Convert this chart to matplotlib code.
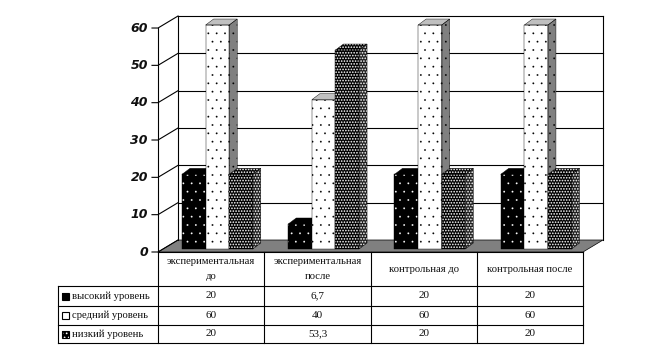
import matplotlib
matplotlib.use("Agg")
import matplotlib.pyplot as plt
from matplotlib.patches import Polygon, Rectangle

categories = ["экспериментальная\nдо", "экспериментальная\nпосле", "контрольная до", "контрольная после"]
series_names = ["высокий уровень", "средний уровень", "низкий уровень"]
high = [20, 6.7, 20, 20]
mid = [60, 40, 60, 60]
low = [20, 53.3, 20, 20]
value_labels = [["20", "6,7", "20", "20"], ["60", "40", "60", "60"], ["20", "53,3", "20", "20"]]
yticks = [0, 10, 20, 30, 40, 50, 60]

W, H = 661, 360
X0, Y0 = 158, 252      # front-left origin in pixels
PX_X, PX_Y = 106.25, 3.733
fig = plt.figure(figsize=(W/100, H/100), dpi=100, facecolor="white")
ax = fig.add_axes([0, 0, 1, 1])
ax.set_xlim(-X0/PX_X, (W-X0)/PX_X)
ax.set_ylim((Y0-H)/PX_Y, Y0/PX_Y)
ax.axis("off")
DX, DY = 20/PX_X, 12/PX_Y
n = len(categories)
ymax = max(yticks)
LW = 0.8

# walls, grid, floor
ax.add_patch(Polygon([(0, 0), (n, 0), (n+DX, DY), (DX, DY)], fc="#808080", ec="black", lw=0.5, zorder=1))
ax.plot([DX, DX], [DY, DY+ymax], color="k", lw=LW, zorder=1)
ax.plot([n+DX, n+DX], [DY, DY+ymax], color="k", lw=LW, zorder=1)
for t in yticks:
    ax.plot([-6/PX_X, 0, DX], [t, t, t+DY], color="k", lw=LW, zorder=1)
    if t:
        ax.plot([DX, n+DX], [t+DY, t+DY], color="k", lw=LW, zorder=1)
    ax.text(-10/PX_X, t, str(t), ha="right", va="center", fontsize=9, color="#101010",
            family="DejaVu Sans", weight="bold", style="italic", zorder=5)
ax.plot([0, 0], [0, ymax], color="k", lw=LW, zorder=1)

# bars
BW = 23.6/PX_X
BX = 24/PX_X - 5/PX_X
BASE = 3/PX_Y
ox, oy = 8/PX_X, 6/PX_Y
FRONT_DX = 5/PX_X
styles = [
    dict(front=("black", "white", ".."), top=("black", "white", ""), side=("black", "white", "..")),
    dict(front=("white", "black", ".."), top=("#c0c0c0", "#c0c0c0", ""), side=("#808080", "black", "..")),
    dict(front=("black", "white", "......"), top=("black", "white", "......"), side=("#202020", "white", "......")),
]
hatch_lw = [0.1, 0.1, 0.8]
vals = [high, mid, low]
for i in range(n):
    for s, series in enumerate(vals):
        v = series[i]
        x = i + BX + FRONT_DX + s*BW
        st = styles[s]
        y0, y1 = BASE, BASE + v
        z = 3 + i + s*0.1
        plt.rcParams['hatch.linewidth'] = hatch_lw[s]
        for pts, key in (([(x, y0), (x+BW, y0), (x+BW, y1), (x, y1)], "front"),
                         ([(x, y1), (x+BW, y1), (x+BW+ox, y1+oy), (x+ox, y1+oy)], "top"),
                         ([(x+BW, y0), (x+BW+ox, y0+oy), (x+BW+ox, y1+oy), (x+BW, y1)], "side")):
            fc, hc, hatch = st[key]
            ax.add_patch(Polygon(pts, fc=fc, ec=hc, hatch=hatch, lw=0, zorder=z))
            ax.add_patch(Polygon(pts, fc="none", ec="black", lw=0.3, zorder=z+0.01))

# table on a pixel overlay
tb = fig.add_axes([0, 0, 1, 1], facecolor="none")
tb.set_xlim(0, W); tb.set_ylim(H, 0); tb.axis("off")
col_x = [158, 264, 371, 477, 583]
row_y = [252, 286, 306, 325, 343]
LEFT = 58
for x in col_x:
    tb.plot([x, x], [row_y[0], row_y[-1]], color="k", lw=LW)
tb.plot([LEFT, LEFT], [row_y[1], row_y[-1]], color="k", lw=LW)
tb.plot(col_x[:1]+col_x[-1:], [row_y[0]]*2, color="k", lw=LW)
for y in row_y[1:]:
    tb.plot([LEFT, col_x[-1]], [y, y], color="k", lw=LW)
TXT = dict(family="Liberation Serif", fontsize=7.7, color="#101010")
for i, c in enumerate(categories):
    tb.text((col_x[i]+col_x[i+1])/2, (row_y[0]+row_y[1])/2, c, ha="center", va="center", linespacing=1.95, **TXT)
    for r in range(3):
        tb.text((col_x[i]+col_x[i+1])/2, (row_y[r+1]+row_y[r+2])/2-0.5, value_labels[r][i], ha="center", va="center", **{**TXT, "fontsize": 8})
key_fc = ["black", "white", "black"]
key_ec = ["black", "black", "white"]
key_h = ["", "", "...."]
plt.rcParams['hatch.linewidth'] = 0.7
for r, name in enumerate(series_names):
    yc = (row_y[r+1]+row_y[r+2])/2
    tb.add_patch(Rectangle((61.5, yc-3.5), 7, 7, fc=key_fc[r], ec=key_ec[r], lw=0, hatch=key_h[r] or None))
    tb.add_patch(Rectangle((61.5, yc-3.5), 7, 7, fc="none", ec="black", lw=0.8))
    tb.text(72, yc, name, ha="left", va="center", **TXT)

fig.savefig("out.png", dpi=100, facecolor="white")
